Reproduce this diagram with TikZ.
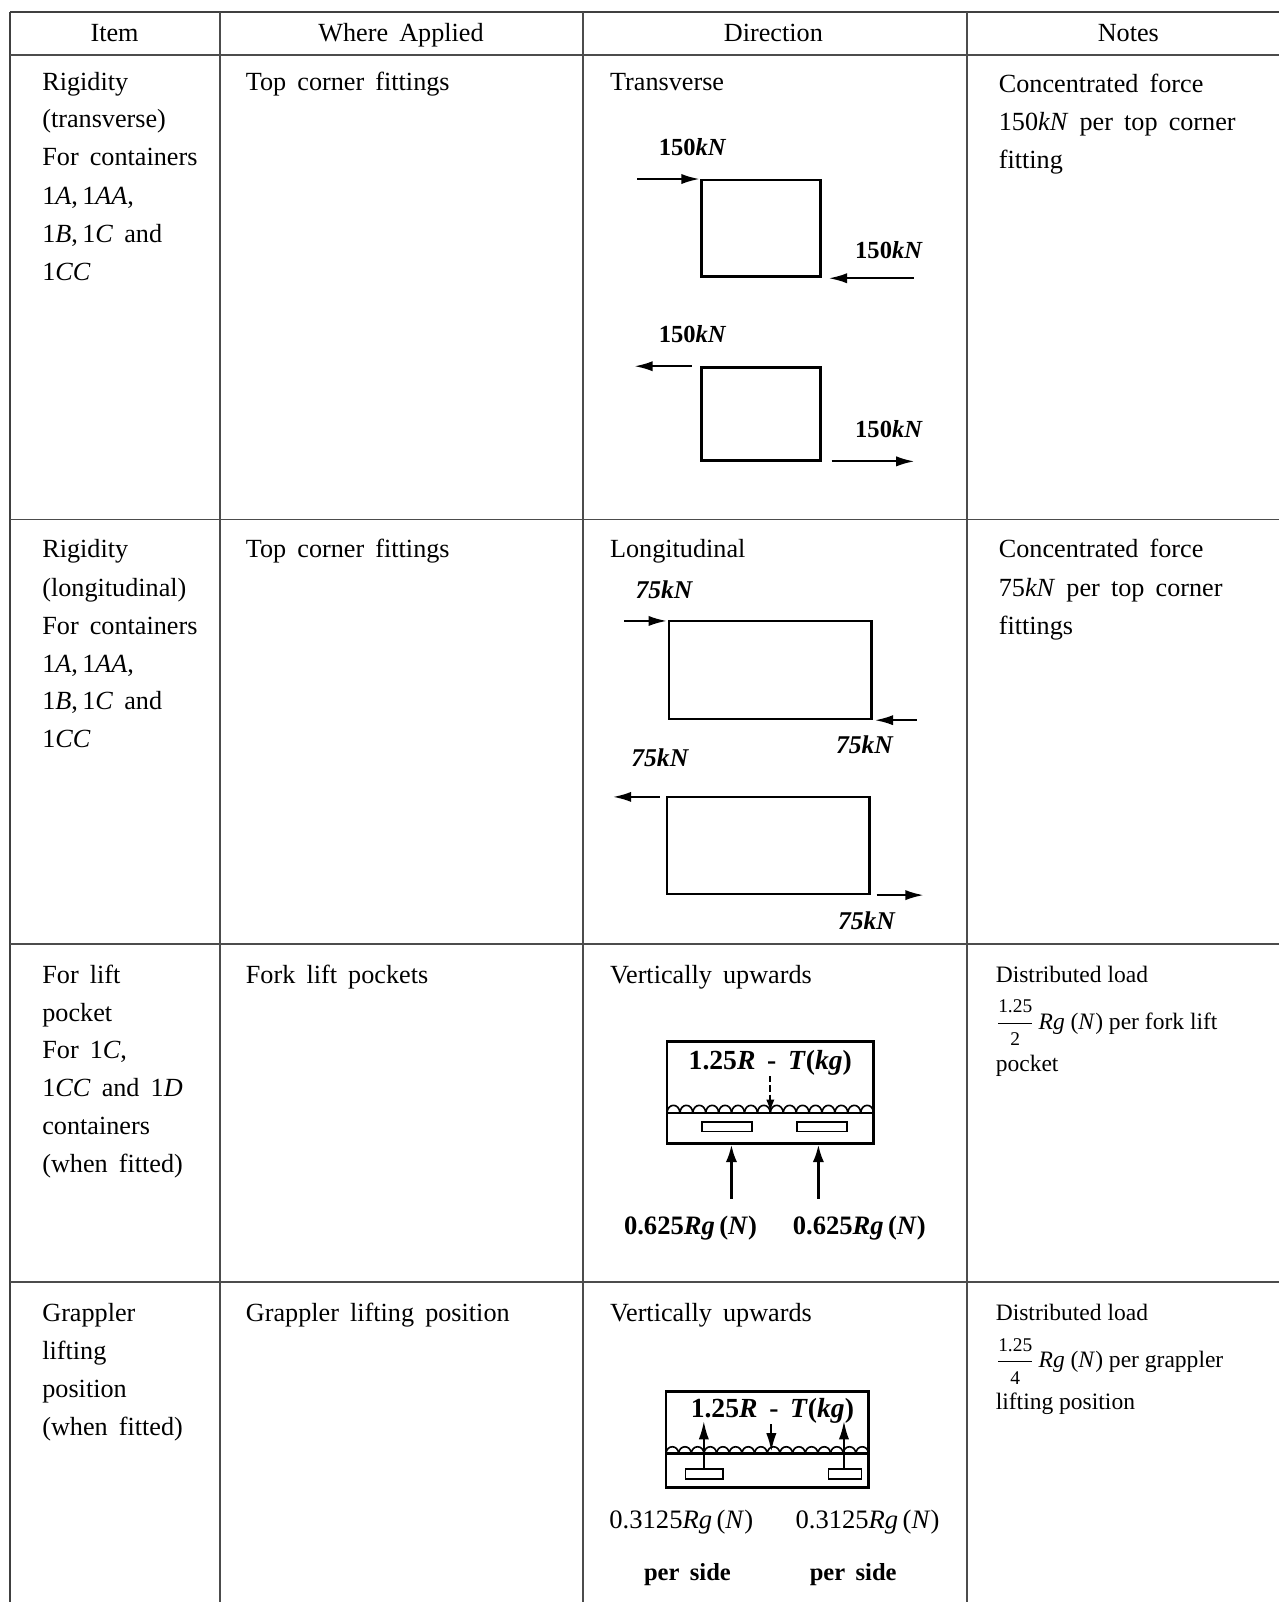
\documentclass[tikz,border=0pt]{standalone}
\usepackage{fontspec}
\setmainfont{Liberation Serif}[WordSpace=1.7]
\newfontfamily\tnr{Liberation Serif}
\usetikzlibrary{arrows.meta}
\newcommand\myfrac[2]{$\displaystyle{\hbox{\tnr\fontsize{9.5}{9.5}\selectfont #1}\over\hbox{\tnr\fontsize{9.5}{9.5}\selectfont #2}}$}
\tikzset{
  rule/.style={line width=0.8pt, draw=black!70},
  outer/.style={line width=1.2pt, draw=black!75},
  hd/.style={font=\fontsize{12.8}{15}\selectfont, inner sep=0pt, anchor=base},
  txt/.style={font=\fontsize{12.8}{15}\selectfont, inner sep=0pt, anchor=base west},
  note/.style={font=\tnr\fontsize{11.5}{14}\selectfont, inner sep=0pt, anchor=base west},
  kn/.style={font=\bfseries\fontsize{12}{14}\selectfont, inner sep=0pt, anchor=base},
  knit/.style={font=\bfseries\itshape\fontsize{12.5}{14}\selectfont, inner sep=0pt, anchor=base},
  frm/.style={font=\bfseries\fontsize{13.5}{15}\selectfont, inner sep=0pt, anchor=base},
  lbl/.style={font=\bfseries\fontsize{13}{15}\selectfont, inner sep=0pt, anchor=base},
  lblr/.style={font=\fontsize{13}{15}\selectfont, inner sep=0pt, anchor=base},
  box/.style={line width=1.3pt, draw=black},
  thin/.style={line width=0.8pt, draw=black},
  fa/.style={line width=1.1pt, -{Latex[length=9pt,width=5pt]}},
  ua/.style={line width=1.2pt, -{Latex[length=8.5pt,width=5.5pt]}},
}
\begin{document}
\begin{tikzpicture}[x=0.5pt,y=-0.5pt]
\fill[white] (0,0) rectangle (1250,1566);
\useasboundingbox (0,0) rectangle (1250,1566);
% table rules
\draw[outer] (10,12) -- (1250,12);
\draw[outer] (10,12) -- (10,1566);
\draw[rule] (10,54) -- (1250,54);
\draw[rule] (10,508) -- (1250,508);
\draw[rule] (10,923) -- (1250,923);
\draw[rule] (10,1253) -- (1250,1253);
\draw[rule] (215,12) -- (215,1566);
\draw[rule] (570,12) -- (570,1566);
\draw[rule] (945,12) -- (945,1566);
% header
\node[hd] (h1) at (112,41) {Item};
\node[hd] (h2) at (392,41) {Where Applied};
\node[hd] (h3) at (756,41) {Direction};
\node[hd] (h4) at (1103,41) {Notes};
% row 1
\node[txt] (r1a) at (41,88) {Rigidity};
\node[txt] (r1b) at (41,125) {(transverse)};
\node[txt] (r1c) at (41,162) {For containers};
\node[txt] (r1d) at (41,200) {1\textit{A},\,1\textit{AA},};
\node[txt] (r1e) at (41,237) {1\textit{B},\,1\textit{C} and};
\node[txt] (r1f) at (41,274) {1\textit{CC}};
\node[txt] (w1) at (240,88) {Top corner fittings};
\node[txt] (d1) at (596,88) {Transverse};
\node[txt] (n1a) at (976,90) {Concentrated force};
\node[txt] (n1b) at (976,128) {150\textit{kN} per top corner};
\node[txt] (n1c) at (976,165) {fitting};
% diagram 1
\draw[box] (686,176) rectangle (802,270);
\coordinate (t1s) at (623,175); \coordinate (t1e) at (684,175);
\draw[fa] (t1s) -- (t1e);
\node[kn] (k1) at (677,152) {150\textit{kN}};
\coordinate (t2s) at (893,272); \coordinate (t2e) at (810,272);
\draw[fa] (t2s) -- (t2e);
\node[kn] (k2) at (869,253) {150\textit{kN}};
\draw[box] (686,359) rectangle (802,450);
\coordinate (t3s) at (676,358); \coordinate (t3e) at (620,358);
\draw[fa] (t3s) -- (t3e);
\node[kn] (k3) at (677,335) {150\textit{kN}};
\coordinate (t4s) at (813,451); \coordinate (t4e) at (894,451);
\draw[fa] (t4s) -- (t4e);
\node[kn] (k4) at (869,428) {150\textit{kN}};
% row 2
\node[txt] (r2a) at (41,545) {Rigidity};
\node[txt] (r2b) at (41,583) {(longitudinal)};
\node[txt] (r2c) at (41,620) {For containers};
\node[txt] (r2d) at (41,657) {1\textit{A},\,1\textit{AA},};
\node[txt] (r2e) at (41,694) {1\textit{B},\,1\textit{C} and};
\node[txt] (r2f) at (41,731) {1\textit{CC}};
\node[txt] (w2) at (240,545) {Top corner fittings};
\node[txt] (d2) at (596,545) {Longitudinal};
\node[txt] (n2a) at (976,545) {Concentrated force};
\node[txt] (n2b) at (976,583) {75\textit{kN} per top corner};
\node[txt] (n2c) at (976,620) {fittings};
% diagram 2
\draw[box] (654,607) rectangle (852,703);
\coordinate (l1s) at (610,607); \coordinate (l1e) at (652,607);
\draw[fa] (l1s) -- (l1e);
\node[knit] (m1) at (649,585) {75kN};
\coordinate (l2s) at (896,704); \coordinate (l2e) at (855,704);
\draw[fa] (l2s) -- (l2e);
\node[knit] (m2) at (845,737) {75kN};
\draw[box] (652,779) rectangle (850,874);
\coordinate (l3s) at (645,779); \coordinate (l3e) at (599,779);
\draw[fa] (l3s) -- (l3e);
\node[knit] (m3) at (645,749) {75kN};
\coordinate (l4s) at (857,875); \coordinate (l4e) at (903,875);
\draw[fa] (l4s) -- (l4e);
\node[knit] (m4) at (847,909) {75kN};
% row 3
\node[txt] (r3a) at (41,961) {For lift};
\node[txt] (r3b) at (41,999) {pocket};
\node[txt] (r3c) at (41,1035) {For 1\textit{C},};
\node[txt] (r3d) at (41,1072) {1\textit{CC} and 1\textit{D}};
\node[txt] (r3e) at (41,1109) {containers};
\node[txt] (r3f) at (41,1146) {(when fitted)};
\node[txt] (w3) at (240,961) {Fork lift pockets};
\node[txt] (d3) at (596,961) {Vertically upwards};
\node[note] (n3a) at (973,960) {Distributed load};
\node[note] (n3b) at (973,1006) {\myfrac{1.25}{2}\,\textit{Rg} (\textit{N}) per fork lift};
\node[note] (n3c) at (973,1047) {pocket};
% diagram 3
\draw[box] (652,1018) rectangle (854,1118);
\draw[box] (652,1088) -- (854,1088);
\foreach \i in {0,...,15}{
  \pgfmathsetmacro\xa{652+\i*12.625}
  \pgfmathsetmacro\xb{\xa+12.625}
  \draw[thin] (\xa,1088) .. controls (\xa+0.5,1078) and (\xb-0.5,1078) .. (\xb,1088);
}
\draw[thin] (686,1097) rectangle (735,1106);
\draw[thin] (779,1097) rectangle (828,1106);
\node[frm] (f3) at (753,1045) {1.25\textit{R} - \textit{T}(\textit{kg})};
\coordinate (ds) at (753,1052); \coordinate (de) at (753,1087);
\draw[line width=0.9pt, dashed, dash pattern=on 3pt off 1.5pt, -{Latex[length=6pt,width=4pt]}] (ds) -- (de);
\coordinate (u1s) at (715,1172); \coordinate (u1e) at (715,1119);
\coordinate (u2s) at (800,1172); \coordinate (u2e) at (800,1119);
\draw[ua] (u1s) -- (u1e);
\draw[ua] (u2s) -- (u2e);
\node[lbl] (p1) at (675,1207) {0.625\textit{Rg}\,(\textit{N})};
\node[lbl] (p2) at (840,1207) {0.625\textit{Rg}\,(\textit{N})};
% row 4
\node[txt] (r4a) at (41,1292) {Grappler};
\node[txt] (r4b) at (41,1329) {lifting};
\node[txt] (r4c) at (41,1366) {position};
\node[txt] (r4d) at (41,1403) {(when fitted)};
\node[txt] (w4) at (240,1292) {Grappler lifting position};
\node[txt] (d4) at (596,1292) {Vertically upwards};
\node[note] (n4a) at (973,1291) {Distributed load};
\node[note] (n4b) at (973,1337) {\myfrac{1.25}{4}\,\textit{Rg} (\textit{N}) per grappler};
\node[note] (n4c) at (973,1378) {lifting position};
% diagram 4
\draw[box] (651,1360) rectangle (849,1454);
\draw[box] (651,1421) -- (849,1421);
\foreach \i in {0,...,15}{
  \pgfmathsetmacro\xa{651+\i*12.375}
  \pgfmathsetmacro\xb{\xa+12.375}
  \draw[thin] (\xa,1421) .. controls (\xa+0.5,1412) and (\xb-0.5,1412) .. (\xb,1421);
}
\draw[thin] (670,1436) rectangle (707,1446);
\draw[thin] (810,1436) rectangle (842,1446);
\node[frm] (f4) at (755,1386) {1.25\textit{R} - \textit{T}(\textit{kg})};
\coordinate (g1s) at (688,1436); \coordinate (g1e) at (688,1389);
\coordinate (g2s) at (825,1436); \coordinate (g2e) at (825,1389);
\coordinate (gds) at (754,1392); \coordinate (gde) at (754,1419);
\draw[fa] (g1s) -- (g1e);
\draw[fa] (g2s) -- (g2e);
\draw[fa] (gds) -- (gde);
\node[lblr] (q1) at (666,1494) {0.3125\textit{Rg}\,(\textit{N})};
\node[lblr] (q2) at (848,1494) {0.3125\textit{Rg}\,(\textit{N})};
\node[kn] (s1) at (672,1545) {per side};
\node[kn] (s2) at (834,1545) {per side};
\end{tikzpicture}
\end{document}
